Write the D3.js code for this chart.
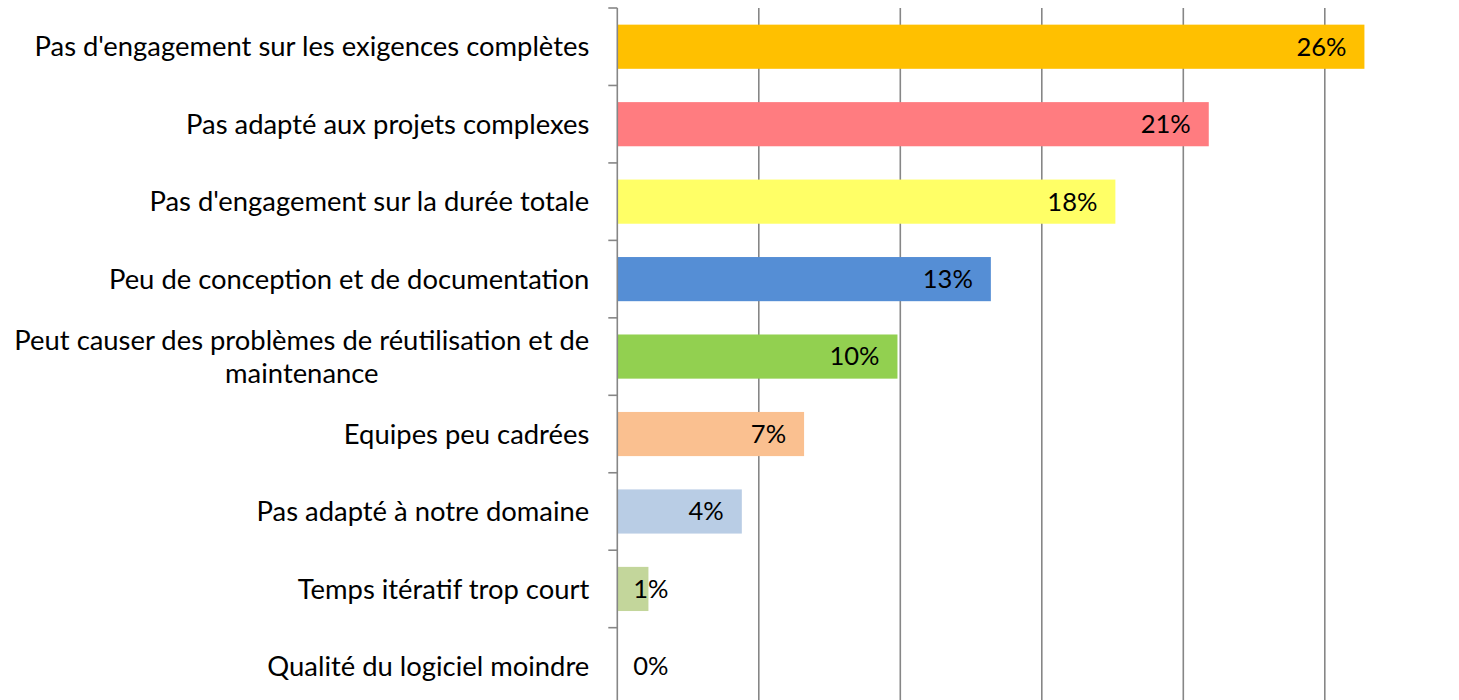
<!DOCTYPE html>
<html>
<head>
<meta charset="utf-8">
<script src="https://cdn.jsdelivr.net/npm/d3@7"></script>
<style>
  body { margin: 0; background: #fff; }
  svg { display: block; font-family: Lato, "Open Sans", sans-serif; }
</style>
</head>
<body>
<svg width="1459" height="700"></svg>
<script>
const categories = [
  "Pas d'engagement sur les exigences complètes",
  "Pas adapté aux projets complexes",
  "Pas d'engagement sur la durée totale",
  "Peu de conception et de documentation",
  "Peut causer des problèmes de réutilisation et de|maintenance",
  "Equipes peu cadrées",
  "Pas adapté à notre domaine",
  "Temps itératif trop court",
  "Qualité du logiciel moindre"
];
const values = [0.264, 0.209, 0.176, 0.132, 0.099, 0.066, 0.044, 0.011, 0];
const colors = ["#FFC000", "#FF7C80", "#FFFF66", "#558ED5", "#92D050", "#FAC090", "#B9CDE5", "#C3D69B", "#FFFFFF"];
const gridTicks = [0.05, 0.10, 0.15, 0.20, 0.25, 0.30];

const svg = d3.select("svg");
const x0 = 617.3, yTop = 8, step = 77.46;

const x = d3.scaleLinear().domain([0, 0.30]).range([x0, x0 + 6 * 141.5]);
const y = d3.scaleBand().domain(categories)
  .range([yTop, yTop + 9 * step])
  .paddingInner(0.43).paddingOuter(0.215);

const fmt = d3.format(".0%");

// gridlines
svg.append("g").selectAll("line")
  .data(gridTicks)
  .enter().append("line")
  .attr("x1", d => x(d)).attr("x2", d => x(d))
  .attr("y1", yTop).attr("y2", 700)
  .attr("stroke", "#868686").attr("stroke-width", 1.6);

// bars
svg.append("g").selectAll("rect")
  .data(categories)
  .enter().append("rect")
  .attr("x", x(0))
  .attr("y", d => y(d))
  .attr("width", (d, i) => x(values[i]) - x(0))
  .attr("height", y.bandwidth())
  .attr("fill", (d, i) => colors[i]);

// axis line + boundary ticks
const axis = svg.append("g").attr("stroke", "#868686").attr("stroke-width", 1.6);
axis.append("line").attr("x1", x0).attr("x2", x0).attr("y1", yTop).attr("y2", 700);
const bounds = categories.map(d => y(d) - y.step() * 0.215).concat([yTop + 9 * step]);
axis.selectAll(".tick").data(bounds).enter().append("line")
  .attr("x1", x0 - 9).attr("x2", x0)
  .attr("y1", d => d).attr("y2", d => d);

// category labels
const labels = svg.append("g")
  .attr("font-size", 27.4).attr("fill", "#000");
categories.forEach(c => {
  const lines = c.split("|");
  const cy = y(c) + y.bandwidth() / 2;
  const lh = 33;
  const first = labels.append("text")
    .attr("x", x0 - 28)
    .attr("y", cy - (lines.length - 1) * lh / 2)
    .attr("dy", "0.35em")
    .attr("text-anchor", "end")
    .text(lines[0]);
  if (lines.length > 1) {
    const w = first.node().getComputedTextLength();
    labels.append("text")
      .attr("x", x0 - 28 - w / 2)
      .attr("y", cy + lh / 2)
      .attr("dy", "0.35em")
      .attr("text-anchor", "middle")
      .text(lines[1]);
  }
});

// value labels
const vals = svg.append("g").attr("font-size", 25.5).attr("fill", "#000");
categories.forEach((c, i) => {
  const t = vals.append("text")
    .attr("y", y(c) + y.bandwidth() / 2)
    .attr("dy", "0.35em")
    .attr("text-anchor", "end")
    .text(fmt(values[i]));
  const w = t.node().getComputedTextLength();
  t.attr("x", Math.max(x(values[i]) - 18, x(0) + 16 + w));
});
</script>
</body>
</html>
